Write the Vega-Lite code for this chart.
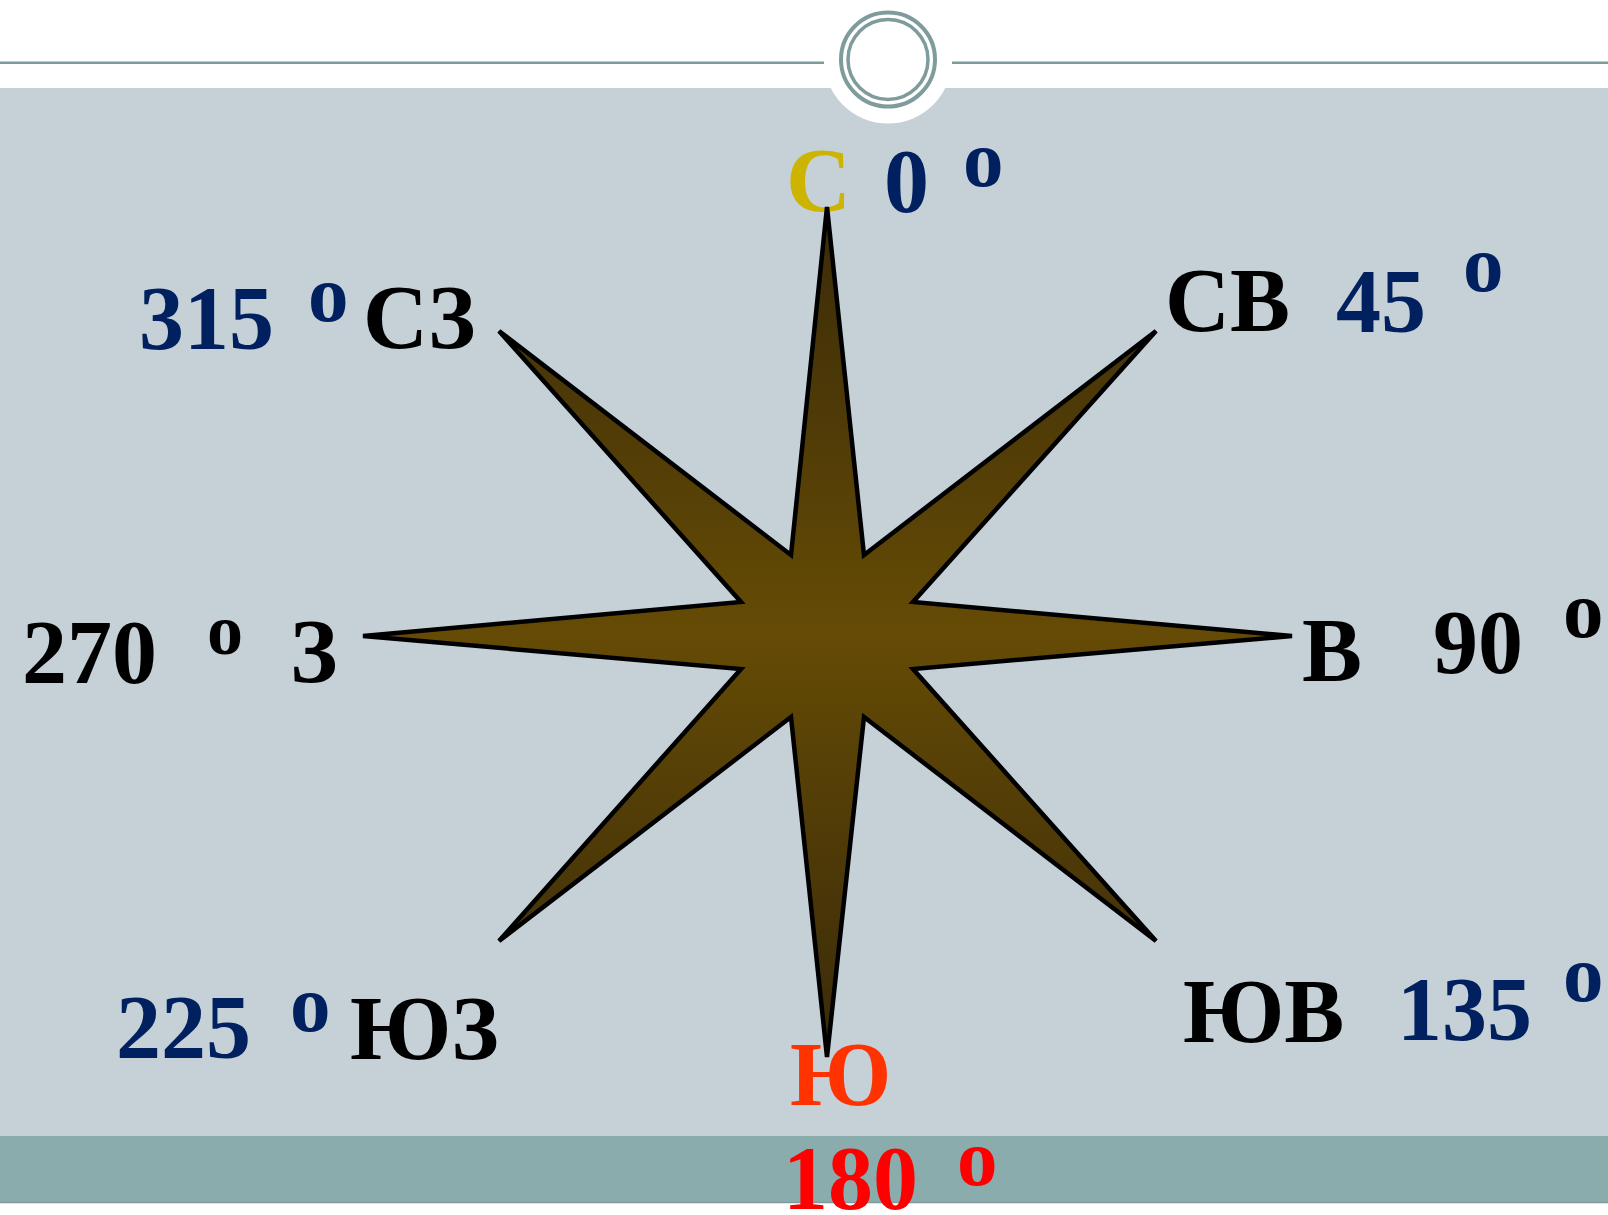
{
  "$schema": "https://vega.github.io/schema/vega-lite/v6.json",
  "width": 1608,
  "height": 1215,
  "autosize": {"type": "none"},
  "padding": 0,
  "background": "white",
  "config": {"view": {"stroke": null}},
  "datasets": {
    "body": [{"x": 0, "x2": 1608, "y": 88, "y2": 1136}],
    "footer": [{"x": 0, "x2": 1608, "y": 1136, "y2": 1202}],
    "toplines": [{"x": 0, "x2": 824, "y": 62.8}, {"x": 952, "x2": 1608, "y": 62.8}],
    "bottomline": [{"x": 0, "x2": 1608, "y": 1202.5}],
    "emblem": [{"x": 888, "y": 59.5}],
    "star": [
      {"i": 0, "x": 827, "y": 207},
      {"i": 1, "x": 864, "y": 555},
      {"i": 2, "x": 1156, "y": 331},
      {"i": 3, "x": 913, "y": 602},
      {"i": 4, "x": 1292, "y": 636},
      {"i": 5, "x": 913, "y": 669},
      {"i": 6, "x": 1156, "y": 941},
      {"i": 7, "x": 864, "y": 717},
      {"i": 8, "x": 827, "y": 1057},
      {"i": 9, "x": 791, "y": 717},
      {"i": 10, "x": 499, "y": 941},
      {"i": 11, "x": 741, "y": 669},
      {"i": 12, "x": 363, "y": 636},
      {"i": 13, "x": 741, "y": 602},
      {"i": 14, "x": 499, "y": 331},
      {"i": 15, "x": 791, "y": 555}
    ],
    "labels": [
      {"text": "С", "x": 786, "y": 211, "tone": "N", "level": "main"},
      {"text": "0", "x": 884, "y": 212, "tone": "deg", "level": "main"},
      {"text": "o", "x": 963, "y": 186, "tone": "deg", "level": "sup"},
      {"text": "315", "x": 139, "y": 349, "tone": "deg", "level": "main"},
      {"text": "o", "x": 308, "y": 321, "tone": "deg", "level": "sup"},
      {"text": "СЗ", "x": 363, "y": 348, "tone": "dir", "level": "main"},
      {"text": "СВ", "x": 1165, "y": 331, "tone": "dir", "level": "main"},
      {"text": "45", "x": 1336, "y": 332, "tone": "deg", "level": "main"},
      {"text": "o", "x": 1463, "y": 291, "tone": "deg", "level": "sup"},
      {"text": "270", "x": 22, "y": 683, "tone": "dir", "level": "main"},
      {"text": "o", "x": 207, "y": 654, "tone": "dir", "level": "supbig"},
      {"text": "З", "x": 290, "y": 682, "tone": "dir", "level": "main"},
      {"text": "В", "x": 1302, "y": 681, "tone": "dir", "level": "main"},
      {"text": "90", "x": 1433, "y": 673, "tone": "dir", "level": "main"},
      {"text": "o", "x": 1563, "y": 637, "tone": "dir", "level": "sup"},
      {"text": "225", "x": 116, "y": 1058, "tone": "deg", "level": "main"},
      {"text": "o", "x": 290, "y": 1031, "tone": "deg", "level": "sup"},
      {"text": "ЮЗ", "x": 350, "y": 1059, "tone": "dir", "level": "main"},
      {"text": "ЮВ", "x": 1183, "y": 1042, "tone": "dir", "level": "main"},
      {"text": "135", "x": 1397, "y": 1040, "tone": "deg", "level": "main"},
      {"text": "o", "x": 1563, "y": 1001, "tone": "deg", "level": "sup"},
      {"text": "Ю", "x": 790, "y": 1105, "tone": "S", "level": "main"},
      {"text": "180", "x": 783, "y": 1209, "tone": "S-deg", "level": "main"},
      {"text": "o", "x": 957, "y": 1185, "tone": "S-deg", "level": "sup"}
    ]
  },
  "layer": [
    {
      "data": {"name": "body"},
      "mark": {"type": "rect", "color": "#c5d0d7"},
      "encoding": {
        "x": {"field": "x", "type": "quantitative", "scale": {"domain": [0, 1608], "nice": false, "zero": false}, "axis": null},
        "x2": {"field": "x2"},
        "y": {"field": "y", "type": "quantitative", "scale": {"domain": [0, 1215], "nice": false, "zero": false, "reverse": true}, "axis": null},
        "y2": {"field": "y2"}
      }
    },
    {
      "data": {"name": "footer"},
      "mark": {"type": "rect", "color": "#8aacad"},
      "encoding": {
        "x": {"field": "x", "type": "quantitative", "scale": {"domain": [0, 1608], "nice": false, "zero": false}, "axis": null},
        "x2": {"field": "x2"},
        "y": {"field": "y", "type": "quantitative", "scale": {"domain": [0, 1215], "nice": false, "zero": false, "reverse": true}, "axis": null},
        "y2": {"field": "y2"}
      }
    },
    {
      "data": {"name": "bottomline"},
      "mark": {"type": "rule", "color": "#7f9b9b", "strokeWidth": 1.5},
      "encoding": {
        "x": {"field": "x", "type": "quantitative", "scale": {"domain": [0, 1608], "nice": false, "zero": false}, "axis": null},
        "x2": {"field": "x2"},
        "y": {"field": "y", "type": "quantitative", "scale": {"domain": [0, 1215], "nice": false, "zero": false, "reverse": true}, "axis": null}
      }
    },
    {
      "data": {"name": "toplines"},
      "mark": {"type": "rule", "color": "#7d9b9b", "strokeWidth": 2.4},
      "encoding": {
        "x": {"field": "x", "type": "quantitative", "scale": {"domain": [0, 1608], "nice": false, "zero": false}, "axis": null},
        "x2": {"field": "x2"},
        "y": {"field": "y", "type": "quantitative", "scale": {"domain": [0, 1215], "nice": false, "zero": false, "reverse": true}, "axis": null}
      }
    },
    {
      "data": {"name": "emblem"},
      "mark": {"type": "point", "shape": "circle", "filled": true, "color": "white", "opacity": 1, "size": 16384},
      "encoding": {
        "x": {"field": "x", "type": "quantitative", "scale": {"domain": [0, 1608], "nice": false, "zero": false}, "axis": null},
        "y": {"field": "y", "type": "quantitative", "scale": {"domain": [0, 1215], "nice": false, "zero": false, "reverse": true}, "axis": null}
      }
    },
    {
      "data": {"name": "emblem"},
      "mark": {"type": "point", "shape": "circle", "filled": false, "stroke": "#7f9b9b", "strokeWidth": 4, "opacity": 1, "size": 8836},
      "encoding": {
        "x": {"field": "x", "type": "quantitative", "scale": {"domain": [0, 1608], "nice": false, "zero": false}, "axis": null},
        "y": {"field": "y", "type": "quantitative", "scale": {"domain": [0, 1215], "nice": false, "zero": false, "reverse": true}, "axis": null}
      }
    },
    {
      "data": {"name": "emblem"},
      "mark": {"type": "point", "shape": "circle", "filled": false, "stroke": "#7f9b9b", "strokeWidth": 3.5, "opacity": 1, "size": 6400},
      "encoding": {
        "x": {"field": "x", "type": "quantitative", "scale": {"domain": [0, 1608], "nice": false, "zero": false}, "axis": null},
        "y": {"field": "y", "type": "quantitative", "scale": {"domain": [0, 1215], "nice": false, "zero": false, "reverse": true}, "axis": null}
      }
    },
    {
      "data": {"name": "labels"},
      "mark": {"type": "text", "font": "Liberation Serif", "fontWeight": "bold", "align": "left", "baseline": "alphabetic"},
      "encoding": {
        "x": {"field": "x", "type": "quantitative", "scale": {"domain": [0, 1608], "nice": false, "zero": false}, "axis": null},
        "y": {"field": "y", "type": "quantitative", "scale": {"domain": [0, 1215], "nice": false, "zero": false, "reverse": true}, "axis": null},
        "text": {"field": "text"},
        "color": {"field": "tone", "type": "nominal", "scale": {"domain": ["dir", "deg", "N", "S", "S-deg"], "range": ["#000000", "#002060", "#ccb400", "#ff3300", "#ff0000"]}, "legend": null},
        "size": {"field": "level", "type": "nominal", "scale": {"domain": ["main", "sup", "supbig"], "range": [90, 72, 98]}, "legend": null}
      }
    },
    {
      "data": {"name": "star"},
      "mark": {
        "type": "line",
        "interpolate": "linear-closed",
        "stroke": "#000000",
        "strokeWidth": 4.5,
        "strokeJoin": "miter",
        "fill": {"gradient": "linear", "x1": 0, "y1": 0, "x2": 0, "y2": 1, "stops": [
          {"offset": 0, "color": "#3a2b09"},
          {"offset": 0.5, "color": "#654b05"},
          {"offset": 1, "color": "#392a0a"}
        ]}
      },
      "encoding": {
        "x": {"field": "x", "type": "quantitative", "scale": {"domain": [0, 1608], "nice": false, "zero": false}, "axis": null},
        "y": {"field": "y", "type": "quantitative", "scale": {"domain": [0, 1215], "nice": false, "zero": false, "reverse": true}, "axis": null},
        "order": {"field": "i", "type": "quantitative"}
      }
    }
  ]
}
